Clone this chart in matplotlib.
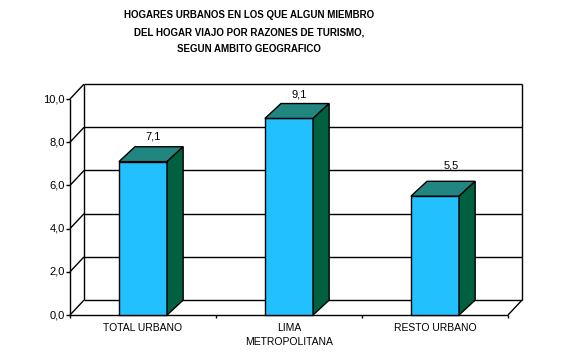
import matplotlib
matplotlib.use('Agg')
from matplotlib import pyplot as plt
from matplotlib.patches import Polygon

# Chart data
categories = ['TOTAL URBANO', 'LIMA\nMETROPOLITANA', 'RESTO URBANO']
values = [7.1, 9.1, 5.5]
value_labels = ['7,1', '9,1', '5,5']
yticks = [0, 2, 4, 6, 8, 10]
ytick_labels = ['0,0', '2,0', '4,0', '6,0', '8,0', '10,0']
title = ('HOGARES URBANOS EN LOS QUE ALGUN MIEMBRO\n'
         'DEL HOGAR VIAJO POR RAZONES DE TURISMO,\n'
         'SEGUN AMBITO GEOGRAFICO')

front_color = '#22C0FF'
top_color = '#228680'
side_color = '#006040'

# label nudges (x, y in px), the last one sits a bit higher in the original
label_nudge = [(0, 0), (0, -1), (6, 6)]

plt.rcParams['font.family'] = ['Liberation Sans', 'DejaVu Sans']

fig = plt.figure(figsize=(5.63, 3.6), dpi=100)
ax = fig.add_axes([70 / 563, 45 / 360, 438 / 563, 216 / 360])
ax.set_xlim(-0.5, len(categories) - 0.5)
ax.set_ylim(0, 10)
ax.axis('off')

# depth of the 3d effect in data units
ddx = 0.096
ddy = 0.69
bdx = 0.11
bdy = 0.69
width = 0.33
x0, x1 = -0.5, len(categories) - 0.5
lw = 1.0
kw = dict(color='black', lw=lw, clip_on=False, solid_capstyle='butt')

# back wall gridlines and side wall diagonals
for t in yticks:
    ax.plot([x0 + ddx, x1 + ddx], [t + ddy, t + ddy], **kw)
    ax.plot([x0, x0 + ddx], [t, t + ddy], **kw)
    ax.plot([x0 - 0.025, x0], [t, t], **kw)
ax.plot([x0 + ddx, x0 + ddx], [ddy, 10 + ddy], **kw)
ax.plot([x1 + ddx, x1 + ddx], [ddy, 10 + ddy], **kw)
# floor
ax.plot([x0, x1], [0, 0], **kw)
ax.plot([x1, x1 + ddx], [0, ddy], **kw)
ax.plot([x0, x0], [0, 10], **kw)
for i in range(len(categories) + 1):
    ax.plot([x0 + i, x0 + i], [0, -0.15], **kw)

for t, lab in zip(yticks, ytick_labels):
    ax.text(x0 - 0.035, t, lab, ha='right', va='center', fontsize=8)

# bars
for i, v in enumerate(values):
    l, r = i - width / 2, i + width / 2
    ax.add_patch(Polygon([(l, 0), (r, 0), (r, v), (l, v)], closed=True,
                         fc=front_color, ec='black', lw=lw, clip_on=False, zorder=3))
    ax.add_patch(Polygon([(l, v), (r, v), (r + bdx, v + bdy), (l + bdx, v + bdy)],
                         closed=True, fc=top_color, ec='black', lw=lw, clip_on=False, zorder=3))
    ax.add_patch(Polygon([(r, 0), (r + bdx, bdy), (r + bdx, v + bdy), (r, v)],
                         closed=True, fc=side_color, ec='black', lw=lw, clip_on=False, zorder=3))
    ax.annotate(value_labels[i], (i + 0.07, v + bdy + 0.22), xytext=label_nudge[i],
                textcoords='offset pixels', ha='center', va='bottom', fontsize=8)
    ax.text(i, -0.35, categories[i], ha='center', va='top', fontsize=7.5, linespacing=1.6)

fig.text(0.443, 0.972, title, ha='center', va='top', fontsize=7, fontweight='bold',
         linespacing=1.9)

fig.savefig('out.png', dpi=100)
